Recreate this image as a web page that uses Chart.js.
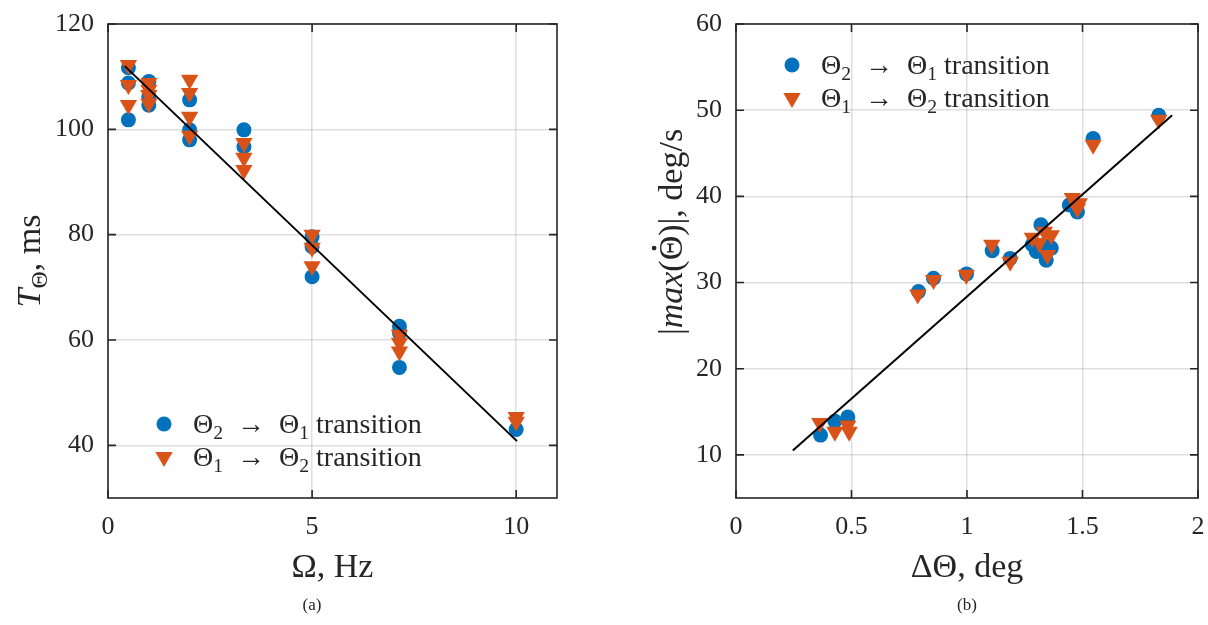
<!DOCTYPE html>
<html>
<head>
<meta charset="utf-8">
<script src="https://cdn.jsdelivr.net/npm/chart.js@4.4.1/dist/chart.umd.min.js"></script>
<style>
body { margin: 0; background: #fff; width: 1208px; height: 625px; position: relative; overflow: hidden; }
.wrap { position: absolute; top: 0; width: 604px; height: 625px; }
#wrapA { left: 0; }
#wrapB { left: 604px; }
.cap { position: absolute; top: 595px; width: 60px; text-align: center; font: 17px "Liberation Serif", serif; color: #262626; }
</style>
</head>
<body>
<div class="wrap" id="wrapA"><canvas id="chartA"></canvas></div>
<div class="wrap" id="wrapB"><canvas id="chartB"></canvas></div>
<div class="cap" style="left:282px">(a)</div>
<div class="cap" style="left:937px">(b)</div>
<script>
// (a) transition time vs forcing frequency
var freqUp = [0.5, 0.5, 0.5, 1, 1, 1, 2, 2, 2, 3.33, 3.33, 5, 5, 5, 7.14, 7.14, 7.14, 10];
var timeUp = [111.7, 108.8, 101.8, 109.1, 106.2, 104.6, 105.6, 99.9, 98.0, 99.9, 96.7, 79.6, 77.7, 72.0, 62.6, 61.4, 54.8, 43.0];
var freqDown = [0.5, 0.5, 0.5, 1, 1, 1, 1, 2, 2, 2, 2, 3.33, 3.33, 3.33, 5, 5, 5, 7.14, 7.14, 7.14, 10, 10];
var timeDown = [112.2, 108.4, 104.6, 108.8, 107.5, 106.5, 104.9, 109.4, 106.9, 102.4, 98.8, 97.4, 94.6, 92.3, 80.0, 77.5, 74.0, 61.0, 59.5, 57.8, 45.4, 44.5];
var fitAx = [0.41, 10.02];
var fitAy = [112.0, 40.8];
var ticksAx = [0, 5, 10];
var ticksAy = [40, 60, 80, 100, 120];

// (b) peak rate vs amplitude
var ampUp = [0.366, 0.428, 0.484, 0.79, 0.855, 0.998, 1.109, 1.187, 1.283, 1.30, 1.32, 1.343, 1.357, 1.365, 1.443, 1.478, 1.546, 1.83];
var rateUp = [12.3, 13.9, 14.4, 28.95, 30.5, 31.0, 33.7, 32.8, 34.4, 33.6, 36.7, 32.6, 34.2, 34.0, 39.0, 38.2, 46.7, 49.4];
var ampDown = [0.363, 0.428, 0.484, 0.49, 0.787, 0.855, 0.997, 1.107, 1.187, 1.283, 1.313, 1.335, 1.348, 1.365, 1.456, 1.478, 1.486, 1.546, 1.83];
var rateDown = [13.7, 12.7, 13.4, 12.7, 28.6, 30.3, 30.9, 34.4, 32.4, 35.2, 34.6, 35.9, 33.2, 35.5, 39.8, 38.6, 39.2, 46.0, 48.9];
var fitBx = [0.246, 1.888];
var fitBy = [10.5, 49.4];
var ticksBx = [0, 0.5, 1, 1.5, 2];
var ticksBy = [10, 20, 30, 40, 50, 60];

var BLUE = '#0072BD';
var ORANGE = '#D95319';
var AXIS = '#262626';
var FONT = '"Liberation Serif", serif';

function pts(xs, ys) {
    return xs.map(function (x, i) { return {x: x, y: ys[i]}; });
}

// draw text made of pieces (italic, subscript, dotted) starting at x
function richWidth(ctx, segs, size) {
    var w = 0;
    segs.forEach(function (s) {
        ctx.font = (s.it ? 'italic ' : '') + (s.sub ? size * 0.7 : size) + 'px ' + FONT;
        w += ctx.measureText(s.t).width;
    });
    return w;
}
function drawRich(ctx, segs, x, y, size) {
    segs.forEach(function (s) {
        var fs = s.sub ? size * 0.7 : size;
        ctx.font = (s.it ? 'italic ' : '') + fs + 'px ' + FONT;
        var w = ctx.measureText(s.t).width;
        ctx.fillText(s.t, x, s.sub ? y + size * 0.22 : y);
        if (s.dot) {
            ctx.beginPath();
            ctx.arc(x + w / 2, y - size * 0.82, size * 0.07, 0, Math.PI * 2);
            ctx.fill();
        }
        x += w;
    });
}

var framePlugin = {
    id: 'frame',
    afterDraw: function (chart, args, opts) {
        var ctx = chart.ctx;
        var a = chart.chartArea;
        var sx = chart.scales.x, sy = chart.scales.y;
        ctx.save();
        ctx.strokeStyle = AXIS;
        ctx.lineWidth = 1.6;
        // inward ticks on all four sides
        ctx.beginPath();
        sx.ticks.forEach(function (t) {
            var px = sx.getPixelForValue(t.value);
            ctx.moveTo(px, a.bottom); ctx.lineTo(px, a.bottom - 8);
            ctx.moveTo(px, a.top); ctx.lineTo(px, a.top + 8);
        });
        sy.ticks.forEach(function (t) {
            var py = sy.getPixelForValue(t.value);
            ctx.moveTo(a.left, py); ctx.lineTo(a.left + 8, py);
            ctx.moveTo(a.right, py); ctx.lineTo(a.right - 8, py);
        });
        ctx.stroke();
        ctx.strokeRect(a.left, a.top, a.right - a.left, a.bottom - a.top);

        ctx.fillStyle = AXIS;
        ctx.textBaseline = 'alphabetic';
        ctx.textAlign = 'left';
        // x title
        var w = richWidth(ctx, opts.xTitle, 34);
        drawRich(ctx, opts.xTitle, (a.left + a.right) / 2 - w / 2, 577, 34);
        // y title
        ctx.save();
        ctx.translate(opts.yTitleX, (a.top + a.bottom) / 2 + opts.yTitleShift);
        ctx.rotate(-Math.PI / 2);
        w = richWidth(ctx, opts.yTitle, 34);
        drawRich(ctx, opts.yTitle, -w / 2, 0, 34);
        ctx.restore();

        // legend
        var lg = opts.legend;
        var ds = chart.data.datasets;
        for (var i = 0; i < 2; i++) {
            var d = ds[i];
            var ly = lg.y + i * 33;
            ctx.fillStyle = d.pointBackgroundColor;
            Chart.helpers.drawPoint(ctx, {
                pointStyle: d.pointStyle, radius: d.pointRadius,
                rotation: d.pointRotation || 0, borderWidth: 0
            }, lg.x, ly);
            ctx.fillStyle = AXIS;
            drawRich(ctx, d.richLabel, lg.x + 29, ly + 9, 28);
        }
        ctx.restore();
    }
};

function labelSegs(a, b) {
    return [{t: 'Θ'}, {t: a, sub: true}, {t: '\u2002→\u2002Θ'}, {t: b, sub: true}, {t: ' transition'}];
}

function noPad(s) {
    s.paddingLeft = 0; s.paddingRight = 0; s.paddingTop = 0; s.paddingBottom = 0;
}

function makeChart(id, cfg) {
    var ctx = document.getElementById(id).getContext('2d');
    return new Chart(ctx, {
        type: 'scatter',
        data: {
            datasets: [{
                    label: 'Θ2 → Θ1 transition',
                    richLabel: labelSegs('2', '1'),
                    data: pts(cfg.xUp, cfg.yUp),
                    pointStyle: 'circle',
                    pointRadius: 7.5,
                    pointBackgroundColor: BLUE,
                    pointBorderWidth: 0,
                    order: 3
                },
                {
                    label: 'Θ1 → Θ2 transition',
                    richLabel: labelSegs('1', '2'),
                    data: pts(cfg.xDown, cfg.yDown),
                    pointStyle: 'triangle',
                    pointRotation: 180,
                    pointRadius: 10,
                    pointBackgroundColor: ORANGE,
                    pointBorderWidth: 0,
                    order: 2
                },
                {
                    label: 'fit',
                    data: pts(cfg.fitX, cfg.fitY),
                    showLine: true,
                    borderColor: '#000',
                    borderWidth: 2,
                    pointRadius: 0,
                    fill: false,
                    order: 1
                }]
        },
        options: {
            responsive: true,
            maintainAspectRatio: false,
            animation: false,
            layout: {padding: {top: 24, right: cfg.padRight, left: 0, bottom: 0}},
            plugins: {
                legend: {display: false},
                tooltip: {enabled: false},
                frame: {
                    xTitle: cfg.xTitle, yTitle: cfg.yTitle,
                    yTitleX: cfg.yTitleX, yTitleShift: cfg.yTitleShift,
                    legend: cfg.legend
                }
            },
            scales: {
                x: {
                    type: 'linear', min: cfg.xMin, max: cfg.xMax,
                    afterBuildTicks: function (s) { s.ticks = cfg.xTicks.map(function (v) { return {value: v}; }); },
                    afterFit: function (s) { s.height = 127; noPad(s); },
                    grid: {color: 'rgba(38,38,38,0.15)', lineWidth: 1.5, drawTicks: false},
                    border: {display: false},
                    ticks: {
                        color: AXIS, font: {family: FONT, size: 26}, padding: 14, maxRotation: 0,
                        callback: function (v) { return String(v); }
                    }
                },
                y: {
                    type: 'linear', min: cfg.yMin, max: cfg.yMax,
                    afterBuildTicks: function (s) { s.ticks = cfg.yTicks.map(function (v) { return {value: v}; }); },
                    afterFit: function (s) { s.width = cfg.axisLeft; noPad(s); },
                    grid: {color: 'rgba(38,38,38,0.15)', lineWidth: 1.5, drawTicks: false},
                    border: {display: false},
                    ticks: {
                        color: AXIS, font: {family: FONT, size: 26}, padding: 14,
                        callback: function (v) { return String(v); }
                    }
                }
            }
        },
        plugins: [framePlugin]
    });
}

makeChart('chartA', {
    xUp: freqUp, yUp: timeUp, xDown: freqDown, yDown: timeDown, fitX: fitAx, fitY: fitAy,
    xMin: 0, xMax: 11, yMin: 30, yMax: 120, xTicks: ticksAx, yTicks: ticksAy,
    axisLeft: 108, padRight: 47,
    xTitle: [{t: 'Ω, Hz'}],
    yTitle: [{t: 'T', it: true}, {t: 'Θ', sub: true}, {t: ', ms'}],
    yTitleX: 40, yTitleShift: 0,
    legend: {x: 164, y: 424}
});

makeChart('chartB', {
    xUp: ampUp, yUp: rateUp, xDown: ampDown, yDown: rateDown, fitX: fitBx, fitY: fitBy,
    xMin: 0, xMax: 2, yMin: 5, yMax: 60, xTicks: ticksBx, yTicks: ticksBy,
    axisLeft: 132, padRight: 9,
    xTitle: [{t: 'ΔΘ, deg'}],
    yTitle: [{t: '|'}, {t: 'max', it: true}, {t: '('}, {t: 'Θ', dot: true}, {t: ')|, deg/s'}],
    yTitleX: 78, yTitleShift: -29,
    legend: {x: 188, y: 65}
});
</script>
</body>
</html>
